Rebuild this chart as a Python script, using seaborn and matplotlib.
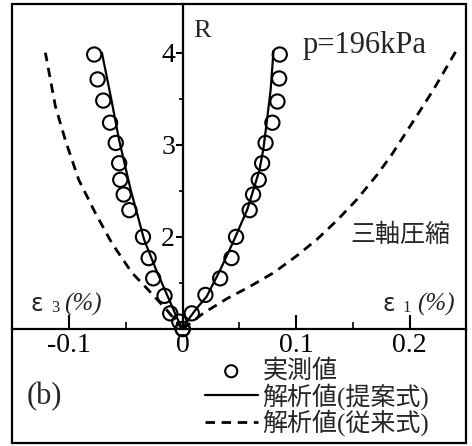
import numpy as np
import pandas as pd
import matplotlib
matplotlib.use("Agg")
import matplotlib.pyplot as plt
import seaborn as sns
from matplotlib.patches import Rectangle
from matplotlib.ticker import FixedLocator

# ---------------- data ----------------
# measured values (circles); eps3 side plotted as negative strain
meas_eps1 = [0.000, 0.008, 0.020, 0.033, 0.043, 0.047, 0.059, 0.062, 0.067, 0.070, 0.073, 0.079, 0.0835, 0.085, 0.0855]
meas_R1 = [1.00, 1.17, 1.37, 1.55, 1.77, 2.00, 2.29, 2.46, 2.62, 2.80, 3.02, 3.24, 3.47, 3.72, 3.98]
meas_eps3 = [0.000, -0.003, -0.011, -0.016, -0.026, -0.030, -0.035, -0.047, -0.052, -0.055, -0.056, -0.059, -0.064, -0.070, -0.075, -0.078]
meas_R3 = [1.00, 1.08, 1.17, 1.36, 1.55, 1.77, 2.00, 2.29, 2.46, 2.62, 2.80, 3.02, 3.24, 3.48, 3.71, 3.98]

# analysis (proposed model) - solid
prop_eps1 = [0.000, 0.006, 0.012, 0.021, 0.033, 0.045, 0.057, 0.0675, 0.071, 0.074, 0.0775, 0.080]
prop_R1 = [1.00, 1.12, 1.22, 1.35, 1.64, 1.96, 2.30, 2.72, 2.95, 3.24, 3.60, 4.02]
prop_eps3 = [0.000, -0.005, -0.012, -0.023, -0.034, -0.046, -0.056, -0.063, -0.0712]
prop_R3 = [1.00, 1.12, 1.32, 1.63, 1.97, 2.52, 3.05, 3.50, 4.00]

# analysis (conventional model) - dashed
conv_eps1 = [0.000, 0.018, 0.039, 0.059, 0.080, 0.100, 0.118, 0.136, 0.153, 0.171, 0.184, 0.206, 0.221, 0.2414]
conv_R1 = [1.00, 1.17, 1.33, 1.46, 1.61, 1.79, 1.97, 2.18, 2.40, 2.67, 2.89, 3.31, 3.60, 4.03]
conv_eps3 = [0.000, -0.015, -0.033, -0.0447, -0.0623, -0.077, -0.0916, -0.1034, -0.1122, -0.121]
conv_R3 = [1.00, 1.22, 1.46, 1.61, 1.93, 2.26, 2.62, 3.05, 3.42, 4.00]

xtick_vals = [-0.1, 0.0, 0.1, 0.2]
xtick_labels = ["-0.1", "0", "0.1", "0.2"]
ytick_vals = [2, 3, 4]
ytick_labels = ["2", "3", "4"]

label_meas = "実測値"
label_prop = "解析値(提案式)"
label_conv = "解析値(従来式)"

# ---------------- style ----------------
sns.set_theme(style="white")
plt.rcParams["font.family"] = ["Liberation Serif", "Noto Sans CJK JP"]
plt.rcParams["axes.unicode_minus"] = False

W, H = 472, 446
fig = plt.figure(figsize=(W / 100, H / 100), dpi=100)


def fx(px):
    return px / W


def fy(py):
    return 1 - py / H


L, Rr, T, B = 12, 466, 4, 329
ax = fig.add_axes([fx(L), fy(B), (Rr - L) / W, (B - T) / H])
ax.set_xlim(-0.1504, 0.2496)
ax.set_ylim(1.0, 1 + (B - T) / 92.1)
ax.set_facecolor("none")

# ---------------- marks ----------------
dash_ls = (0, (3.4, 2.4))
sns.lineplot(x=conv_eps1, y=conv_R1, sort=False, estimator=None, color="black",
             lw=2.0, linestyle=dash_ls, ax=ax, label=label_conv, clip_on=False)
sns.lineplot(x=conv_eps3, y=conv_R3, sort=False, estimator=None, color="black",
             lw=2.0, linestyle=dash_ls, ax=ax, label="_nolegend_", clip_on=False)
sns.lineplot(x=prop_eps1, y=prop_R1, sort=False, estimator=None, color="black",
             lw=1.6, ax=ax, label=label_prop, clip_on=False)
sns.lineplot(x=prop_eps3, y=prop_R3, sort=False, estimator=None, color="black",
             lw=1.6, ax=ax, label="_nolegend_", clip_on=False)
sns.scatterplot(x=meas_eps1, y=meas_R1, marker="o", s=105, facecolors="none",
                edgecolor="black", linewidth=1.5, ax=ax, label=label_meas,
                clip_on=False, zorder=3)
sns.scatterplot(x=meas_eps3, y=meas_R3, marker="o", s=105, facecolors="none",
                edgecolor="black", linewidth=1.5, ax=ax, label="_nolegend_",
                clip_on=False, zorder=3)

# ---------------- axes ----------------
for s in ["top", "right"]:
    ax.spines[s].set_visible(False)
ax.spines["left"].set_position(("data", 0))
ax.spines["left"].set_linewidth(1.6)
ax.spines["left"].set_color("black")
ax.spines["bottom"].set_linewidth(1.6)
ax.spines["bottom"].set_color("black")

ax.set_xticks(xtick_vals)
ax.set_xticklabels(xtick_labels)
ax.xaxis.set_minor_locator(FixedLocator([-0.05, 0.05, 0.15]))
ax.tick_params(axis="x", which="major", direction="in", length=10, width=1.5,
               labelsize=20, pad=3, color="black", labelcolor="black")
ax.tick_params(axis="x", which="minor", direction="in", length=5, width=1.2,
               color="black")
ax.set_yticks(ytick_vals)
ax.set_yticklabels(ytick_labels)
ax.yaxis.set_minor_locator(FixedLocator([1.5, 2.5, 3.5]))
ax.tick_params(axis="y", which="major", direction="out", length=5, width=1.5,
               labelsize=20, pad=0.5, color="black", labelcolor="black")
ax.tick_params(axis="y", which="minor", direction="out", length=3, width=1.2,
               color="black")
ax.tick_params(bottom=True, left=True, which="both")
ax.set_xlabel("")
ax.set_ylabel("")
ax.grid(False)

# outer frame
fig.patches.append(Rectangle((fx(12), fy(443)), (466 - 12) / W, (443 - 4) / H,
                             transform=fig.transFigure, fill=False, lw=1.6,
                             ec="black", zorder=5))

# ---------------- texts ----------------
fig.text(fx(193), fy(31), "R", fontsize=19, va="center", ha="left")
fig.text(fx(303), fy(53), "p=196kPa", fontsize=22, va="baseline", ha="left")
fig.text(fx(350), fy(235), "三軸圧縮", fontsize=18, va="center", ha="left",
         family="Noto Sans CJK JP")

fig.text(fx(30), fy(304), "ε", fontsize=17, family="DejaVu Sans", va="center", ha="left")
fig.text(fx(51), fy(308), "3", fontsize=12, va="center", ha="left")
fig.text(fx(64), fy(304), "(%)", fontsize=18, style="italic", va="center", ha="left")

fig.text(fx(382), fy(304), "ε", fontsize=17, family="DejaVu Sans", va="center", ha="left")
fig.text(fx(402), fy(308), "1", fontsize=12, va="center", ha="left")
fig.text(fx(417), fy(304), "(%)", fontsize=18, style="italic", va="center", ha="left")

fig.text(fx(27), fy(397), "(b)", fontsize=22, va="center", ha="left")

# ---------------- legend ----------------
handles, labels = ax.get_legend_handles_labels()
order = [labels.index(label_meas), labels.index(label_prop), labels.index(label_conv)]
leg = ax.legend([handles[i] for i in order], [labels[i] for i in order],
                loc="upper left", bbox_to_anchor=(fx(205), fy(359)),
                bbox_transform=fig.transFigure, frameon=False, borderpad=0,
                borderaxespad=0, handlelength=2.1, handletextpad=0.2,
                labelspacing=0.0, fontsize=18, markerscale=0.85)

fig.savefig("out.png", dpi=100)
